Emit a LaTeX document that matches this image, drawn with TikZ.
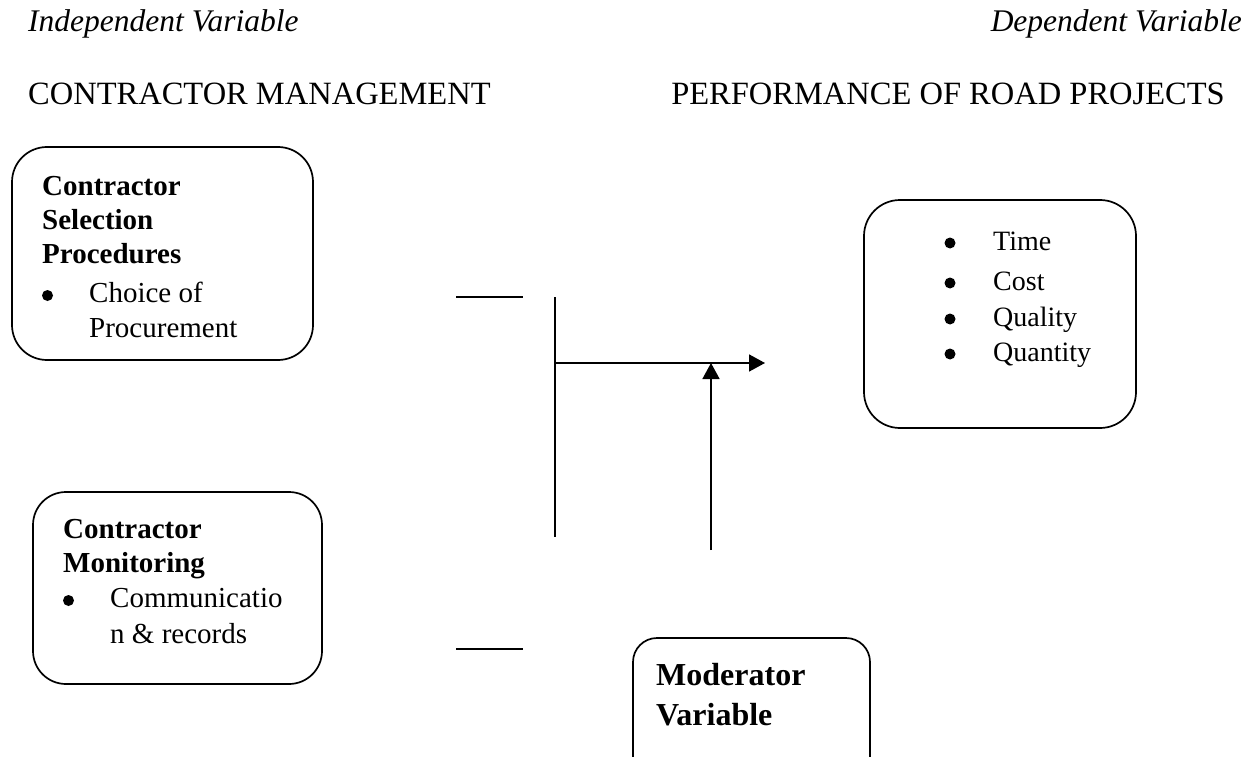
\documentclass[tikz,border=0pt]{standalone}
\usepackage{fontspec}
\setmainfont{Liberation Serif}
\usetikzlibrary{arrows.meta}
\tikzset{
  box/.style={draw=black, line width=1.7pt, rounded corners=#1},
  box/.default=35pt,
  head/.style={inner sep=0pt, font=\fontsize{32.5}{36}\selectfont},
  ihead/.style={inner sep=0pt, font=\fontsize{31.5}{36}\selectfont\itshape},
  txt/.style={inner sep=0pt, font=\fontsize{29}{34}\selectfont},
  btxt/.style={inner sep=0pt, font=\fontsize{29}{34}\selectfont\bfseries},
  rtxt/.style={inner sep=0pt, font=\fontsize{28}{34}\selectfont},
  mtxt/.style={inner sep=0pt, font=\fontsize{32}{38}\selectfont\bfseries},
  bul/.style={circle, fill=black, inner sep=0pt, minimum size=11pt},
  conn/.style={line width=1.6pt},
  arr/.style={line width=1.6pt, -{Triangle[length=16pt,width=17pt]}}
}
\begin{document}
\begin{tikzpicture}[x=1pt,y=-1pt]
\useasboundingbox (0,0) rectangle (1253,757);
\clip (0,0) rectangle (1253,757);
\fill[white] (0,0) rectangle (1253,757);

% headings
\node[ihead, anchor=base west] (iv) at (28,32) {Independent Variable};
\node[ihead, anchor=base east] (dv) at (1242,32) {Dependent Variable};
\node[head, anchor=base west] (cm) at (28,105) {CONTRACTOR MANAGEMENT};
\node[head, anchor=base east] (pr) at (1225,105) {PERFORMANCE OF ROAD PROJECTS};

% box 1
\draw[box=35pt] (12,147) rectangle (313,360);
\node[btxt, anchor=base west] (b1a) at (42,195) {Contractor};
\node[btxt, anchor=base west] (b1b) at (42,229) {Selection};
\node[btxt, anchor=base west] (b1c) at (42,263) {Procedures};
\node[bul] (b1d) at (47.5,295.5) {};
\node[txt, anchor=base west] (b1e) at (89,302) {Choice of};
\node[txt, anchor=base west] (b1f) at (89,337) {Procurement};

% box 2
\draw[box=33pt] (33,492) rectangle (322,684);
\node[btxt, anchor=base west] (b2a) at (63,538) {Contractor};
\node[btxt, anchor=base west] (b2b) at (63,572) {Monitoring};
\node[bul] (b2c) at (68.5,600.5) {};
\node[txt, anchor=base west] (b2d) at (110,607) {Communicatio};
\node[txt, anchor=base west] (b2e) at (110,643) {n \& records};

% box 3
\draw[box=36pt] (864,200) rectangle (1136,428);
\node[bul] (r1b) at (950,243) {};
\node[rtxt, anchor=base west] (r1) at (993,250) {Time};
\node[bul] (r2b) at (950,283) {};
\node[rtxt, anchor=base west] (r2) at (993,290) {Cost};
\node[bul] (r3b) at (950,319) {};
\node[rtxt, anchor=base west] (r3) at (993,326) {Quality};
\node[bul] (r4b) at (950,354) {};
\node[rtxt, anchor=base west] (r4) at (993,361) {Quantity};

% moderator box
\draw[box=24pt] (633,638) rectangle (870,790);
\node[mtxt, anchor=base west] (m1) at (656,685) {Moderator};
\node[mtxt, anchor=base west] (m2) at (656,725) {Variable};

% connectors
\coordinate (s1a) at (456,297);
\coordinate (s1b) at (523,297);
\coordinate (s2a) at (456,649);
\coordinate (s2b) at (523,649);
\coordinate (vt) at (555,297);
\coordinate (vb) at (555,537);
\coordinate (hj) at (555,363);
\coordinate (he) at (765,363);
\coordinate (ub) at (711,550);
\coordinate (ut) at (711,363);

\draw[conn] (s1a) -- (s1b);
\draw[conn] (s2a) -- (s2b);
\draw[conn] (vt) -- (vb);
\draw[arr] (hj) -- (he);
\draw[arr] (ub) -- (ut);
\end{tikzpicture}
\end{document}
